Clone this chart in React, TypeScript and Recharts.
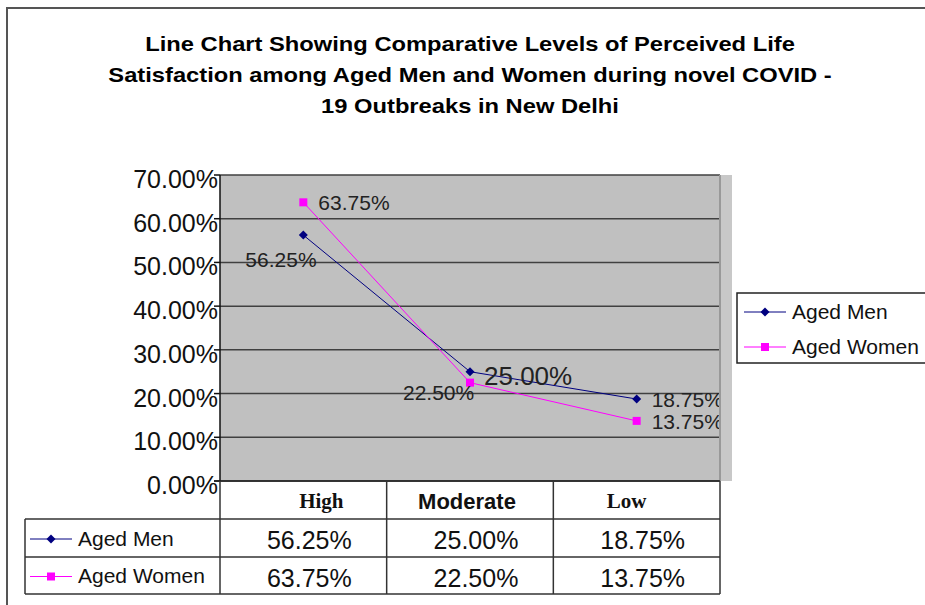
import React from 'react';
import { LineChart, Line, XAxis, YAxis, CartesianGrid, LabelList } from 'recharts';

// chart values
const categories = ['High', 'Moderate', 'Low'];
const agedMen = [0.5625, 0.25, 0.1875];
const agedWomen = [0.6375, 0.225, 0.1375];
const yTicks = [0, 0.1, 0.2, 0.3, 0.4, 0.5, 0.6, 0.7];
const titleLines = [
  'Line Chart Showing Comparative Levels of Perceived Life',
  'Satisfaction among Aged Men and Women during novel COVID -',
  '19 Outbreaks in New Delhi',
];

const data = categories.map((name, i) => ({ name, men: agedMen[i], women: agedWomen[i] }));

// layout
const W = 925;
const H = 605;
const PLOT_LEFT = 220;
const PLOT_RIGHT = 720;
const PLOT_TOP = 175;
const PLOT_BOTTOM = 481;
const BAND = (PLOT_RIGHT - PLOT_LEFT) / categories.length;
const SANS = '"Liberation Sans", Arial, sans-serif';
const SERIF = '"Liberation Serif", "Times New Roman", serif';
const MEN_COLOR = '#000080';
const WOMEN_COLOR = '#ff00ff';

const series = [
  { key: 'men', name: 'Aged Men', color: MEN_COLOR, values: agedMen, shape: 'diamond' },
  { key: 'women', name: 'Aged Women', color: WOMEN_COLOR, values: agedWomen, shape: 'square' },
];

// label placement like the Excel original
const menLabelStyle = [
  { dx: -58, dy: 24, size: 21 },
  { dx: 14, dy: 4, size: 26 },
  { dx: 15, dy: 0, size: 21 },
];
const womenLabelStyle = [
  { dx: 15, dy: 0, size: 21 },
  { dx: -67, dy: 10, size: 21 },
  { dx: 15, dy: 1, size: 21 },
];
// header text nudges inside the table cells
const headerShift = [18, -3, -10];

const pct = (v: number) => `${(v * 100).toFixed(2)}%`;

const Marker = ({ cx, cy, shape, color }: any) => {
  if (cx == null || cy == null) return null;
  if (shape === 'diamond') {
    return <polygon points={`${cx},${cy - 4.5} ${cx + 4.5},${cy} ${cx},${cy + 4.5} ${cx - 4.5},${cy}`} fill={color} />;
  }
  return <rect x={cx - 4} y={cy - 4} width={8} height={8} fill={color} />;
};

const makeLabel = (styles: any[]) => (props: any) => {
  const { x, y, value, index } = props;
  const s = styles[index] || { dx: 10, dy: 0, size: 21 };
  return (
    <text x={x + s.dx} y={y + s.dy} fontSize={s.size} fontFamily={SANS} fill="#222" dominantBaseline="central">
      {pct(value)}
    </text>
  );
};

const YTick = ({ x, y, payload }: any) => (
  <text x={x} y={y + 4} textAnchor="end" dominantBaseline="central" fontSize={25} fontFamily={SANS} fill="#111">
    {pct(payload.value)}
  </text>
);

const LegendSymbol = ({ x1, x2, y, shape, color }: any) => (
  <g>
    <line x1={x1} x2={x2} y1={y} y2={y} stroke={color} strokeWidth={1} />
    <Marker cx={(x1 + x2) / 2} cy={y} shape={shape} color={color} />
  </g>
);

const Overlay = () => {
  const rowTops = [PLOT_BOTTOM, 519, 557, 594];
  return (
    <svg width={W} height={H} style={{ position: 'absolute', left: 0, top: 0, pointerEvents: 'none' }}>
      {/* outer frame */}
      <rect x={7} y={8} width={1000} height={700} fill="none" stroke="#555" strokeWidth={2} />
      {/* title */}
      {titleLines.map((t, i) => (
        <text key={i} transform={`translate(470, ${44 + i * 31}) scale(1.13, 1)`} textAnchor="middle" dominantBaseline="central"
          fontSize={21} fontWeight="bold" fontFamily={SANS} fill="#000">{t}</text>
      ))}
      {/* side wall of the plot */}
      <rect x={PLOT_RIGHT} y={PLOT_TOP} width={12} height={PLOT_BOTTOM - PLOT_TOP} fill="#c8c8c8" />
      <line x1={PLOT_RIGHT} x2={PLOT_RIGHT} y1={PLOT_TOP} y2={PLOT_BOTTOM} stroke="#999" strokeWidth={2} />
      {/* data table */}
      <line x1={214} x2={PLOT_RIGHT} y1={PLOT_BOTTOM} y2={PLOT_BOTTOM} stroke="#222" strokeWidth={1.5} />
      <line x1={25} x2={PLOT_RIGHT} y1={rowTops[1]} y2={rowTops[1]} stroke="#333" strokeWidth={1.5} />
      <line x1={25} x2={PLOT_RIGHT} y1={rowTops[2]} y2={rowTops[2]} stroke="#333" strokeWidth={1.5} />
      <line x1={25} x2={PLOT_RIGHT} y1={rowTops[3]} y2={rowTops[3]} stroke="#333" strokeWidth={1.5} />
      <line x1={25} x2={25} y1={rowTops[1]} y2={rowTops[3]} stroke="#333" strokeWidth={1.5} />
      {categories.map((_, i) => (
        <line key={i} x1={PLOT_LEFT + i * BAND} x2={PLOT_LEFT + i * BAND} y1={PLOT_BOTTOM} y2={rowTops[3]} stroke="#333" strokeWidth={1.5} />
      ))}
      <line x1={PLOT_RIGHT} x2={PLOT_RIGHT} y1={PLOT_BOTTOM} y2={rowTops[3]} stroke="#333" strokeWidth={1.5} />
      {categories.map((c, i) => (
        <text key={c} x={PLOT_LEFT + (i + 0.5) * BAND + headerShift[i]} y={501}
          textAnchor="middle" dominantBaseline="central" fontWeight="bold"
          fontSize={c === 'Moderate' ? 22 : 21} fontFamily={c === 'Moderate' ? SANS : SERIF} fill="#111">{c}</text>
      ))}
      {series.map((s, r) => {
        const cy = (rowTops[r + 1] + rowTops[r + 2]) / 2 + 2;
        return (
          <g key={s.key}>
            <LegendSymbol x1={30} x2={72} y={cy - 1} shape={s.shape} color={s.color} />
            <text x={78} y={cy - 2} dominantBaseline="central" fontSize={21} fontFamily={SANS} fill="#111">{s.name}</text>
            {s.values.map((v, i) => (
              <text key={i} x={PLOT_LEFT + (i + 0.5) * BAND + 6} y={cy} textAnchor="middle" dominantBaseline="central"
                fontSize={25} fontFamily={SANS} fill="#111">{pct(v)}</text>
            ))}
          </g>
        );
      })}
      {/* legend */}
      <rect x={737} y={293} width={300} height={70} fill="#fff" stroke="#222" strokeWidth={1.5} />
      {series.map((s, i) => (
        <g key={s.key}>
          <LegendSymbol x1={744} x2={786} y={312 + i * 35} shape={s.shape} color={s.color} />
          <text x={792} y={311 + i * 35} dominantBaseline="central" fontSize={21} fontFamily={SANS} fill="#111">{s.name}</text>
        </g>
      ))}
    </svg>
  );
};

export default function App() {
  return (
    <div style={{ position: 'absolute', left: 0, top: 0, width: W, height: H, background: '#fff' }}>
      <LineChart
        width={W}
        height={H}
        data={data}
        margin={{ top: PLOT_TOP, right: W - PLOT_RIGHT, bottom: H - PLOT_BOTTOM, left: PLOT_LEFT - 100 }}
      >
        <CartesianGrid vertical={false} fill="#c0c0c0" stroke="#404040" strokeWidth={1.5} />
        <XAxis dataKey="name" hide padding={{ left: BAND / 2, right: BAND / 2 }} />
        <YAxis
          width={100}
          domain={[0, 0.7]}
          ticks={yTicks}
          interval={0}
          tickSize={6}
          tickMargin={-4}
          tick={<YTick />}
          axisLine={{ stroke: '#111', strokeWidth: 1.5 }}
          tickLine={{ stroke: '#111', strokeWidth: 1.5 }}
        />
        <Line
          dataKey="men"
          name="Aged Men"
          stroke={MEN_COLOR}
          strokeWidth={1}
          isAnimationActive={false}
          dot={(p: any) => <Marker key={`m${p.index}`} cx={p.cx} cy={p.cy} shape="diamond" color={MEN_COLOR} />}
          activeDot={false}
        >
          <LabelList dataKey="men" content={makeLabel(menLabelStyle)} />
        </Line>
        <Line
          dataKey="women"
          name="Aged Women"
          stroke={WOMEN_COLOR}
          strokeWidth={1}
          isAnimationActive={false}
          dot={(p: any) => <Marker key={`w${p.index}`} cx={p.cx} cy={p.cy} shape="square" color={WOMEN_COLOR} />}
          activeDot={false}
        >
          <LabelList dataKey="women" content={makeLabel(womenLabelStyle)} />
        </Line>
      </LineChart>
      <Overlay />
    </div>
  );
}
